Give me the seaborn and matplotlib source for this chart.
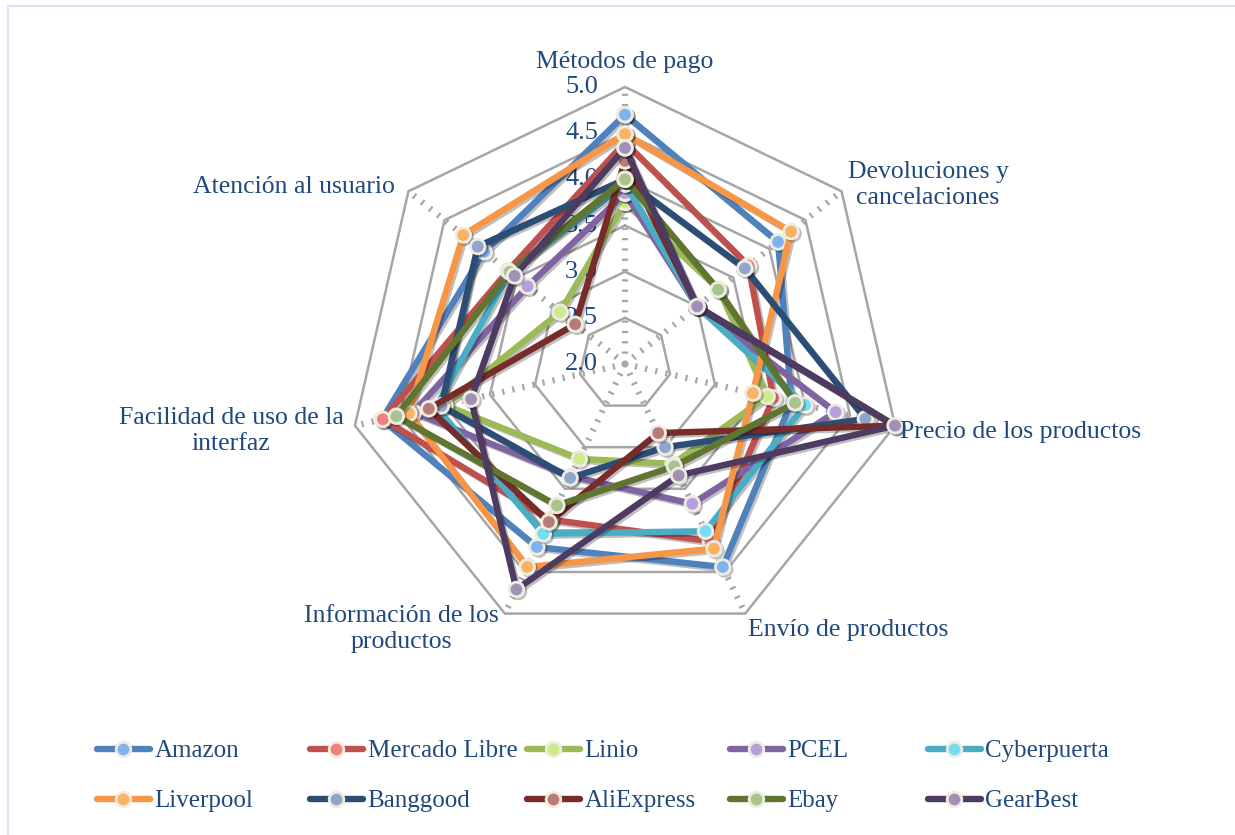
"""radar chart: store evaluation across service criteria"""

import numpy as np
import pandas as pd
import seaborn as sns
import matplotlib.pyplot as plt
from matplotlib import patheffects as pe
from matplotlib.lines import Line2D
from matplotlib.patches import Rectangle
from matplotlib.transforms import offset_copy

categories = [
    "Métodos de pago",
    "Devoluciones y\ncancelaciones",
    "Precio de los productos",
    "Envío de productos",
    "Información de los\nproductos",
    "Facilidad de uso de la\ninterfaz",
    "Atención al usuario",
]
rings = [2.0, 2.5, 3.0, 3.5, 4.0, 4.5, 5.0]

stores = ["Amazon", "Mercado Libre", "Linio", "PCEL", "Cyberpuerta",
          "Liverpool", "Banggood", "AliExpress", "Ebay", "GearBest"]

amazon = [4.70, 4.12, 3.85, 4.44, 4.20, 4.70, 3.95]
mercado_libre = [4.40, 3.71, 3.65, 4.13, 3.87, 4.69, 3.62]
linio = [3.75, 3.30, 3.58, 3.20, 3.14, 4.00, 2.90]
pcel = [3.85, 3.00, 4.34, 3.68, 3.35, 4.35, 3.35]
cyberpuerta = [3.95, 3.00, 4.00, 4.01, 4.04, 4.10, 3.60]
liverpool = [4.49, 4.30, 3.42, 4.22, 4.44, 4.40, 4.24]
banggood = [4.00, 3.66, 4.67, 3.00, 3.37, 4.04, 4.04]
aliexpress = [4.20, 3.00, 5.00, 2.83, 3.90, 4.18, 2.69]
ebay = [4.00, 3.29, 3.89, 3.23, 3.70, 4.54, 3.60]
gearbest = [4.34, 3.00, 5.00, 3.34, 4.71, 3.71, 3.53]

values = [amazon, mercado_libre, linio, pcel, cyberpuerta,
          liverpool, banggood, aliexpress, ebay, gearbest]

line_colors = ["#4F81BD", "#C0504D", "#9BBB59", "#8064A2", "#4BACC6",
               "#F79646", "#2C4D75", "#772C2A", "#5F7530", "#4D3B62"]
marker_colors = ["#7FB2F0", "#F2817E", "#CDEB8B", "#B59FDD", "#74DDF4",
                 "#FAB263", "#8FA5C9", "#B97B78", "#A9C38C", "#A090B5"]

text_color = "#1F497D"
grid_color = "#A6A6A6"

# long table, closing each polygon by repeating the first point
n = len(categories)
angles = np.arange(n) * 2 * np.pi / n
rows = []
for store, vals in zip(stores, values):
    for k in list(range(n)) + [0]:
        rows.append({"store": store, "theta": angles[k], "value": vals[k]})
df = pd.DataFrame(rows)

sns.set_style("white")
plt.rcParams["font.family"] = ["Liberation Serif", "DejaVu Serif"]

W, H = 1235, 835
fig = plt.figure(figsize=(W / 100, H / 100), dpi=100)
cx, cy, R = 625, 364, 277
ax = fig.add_axes([(cx - R) / W, (H - cy - R) / H, 2 * R / W, 2 * R / H], projection="polar")
ax.set_theta_zero_location("N")
ax.set_theta_direction(-1)
ax.axis("off")

# heptagon grid and dotted spokes
closed = np.append(angles, angles[0])
for r in rings[1:]:
    ax.plot(closed, [r] * (n + 1), color=grid_color, lw=1.8, zorder=1, clip_on=False)
for t in angles:
    ax.plot([t, t], [rings[0], rings[-1]], color=grid_color, lw=4.5,
            ls=(0, (0.35, 1.3)), dash_capstyle="butt", zorder=1, clip_on=False)

lbl_tr = offset_copy(ax.transData, fig=fig, x=-27, y=0, units="dots")
for r in rings:
    ax.text(0, r, f"{r:.1f}", transform=lbl_tr, ha="right", va="center",
            fontsize=19, color=text_color, zorder=1.5)

shadow = [pe.SimpleLineShadow(offset=(1.5, -1.5), alpha=0.25), pe.Normal()]
for i, store in enumerate(stores):
    sub = df[df["store"] == store]
    sns.lineplot(data=sub, x="theta", y="value", sort=False, estimator=None,
                 ax=ax, color=line_colors[i], lw=4.6, marker="o", markersize=10.5,
                 markerfacecolor=marker_colors[i], markeredgecolor="#EEECE1",
                 markeredgewidth=2.0, clip_on=False, zorder=2 + i * 0.1,
                 path_effects=shadow, legend=False)
ax.set_ylim(rings[0], rings[-1])
ax.set_xlabel("")
ax.set_ylabel("")


def px(x, y):
    return x / W, 1 - y / H


# category labels
label_pos = [(625, 62, "center"), (928, 185, "center"), (900, 432, "left"),
             (848, 630, "center"), (401, 629, "center"), (231, 431, "center"),
             (395, 187, "right")]
for text, (x, y, ha) in zip(categories, label_pos):
    fig.text(*px(x, y), text, ha=ha, va="center", fontsize=18.5,
             color=text_color, linespacing=1.25, multialignment="center")

# legend: 5 columns x 2 rows, row-major like the original
handles = [Line2D([], [], color=line_colors[i], lw=4.6, marker="o", markersize=10.5,
                  markerfacecolor=marker_colors[i], markeredgecolor="#EEECE1",
                  markeredgewidth=2.0) for i in range(len(stores))]
col_x = [97, 310, 527, 730, 928]
for j, x in enumerate(col_x):
    fig.legend([handles[j], handles[j + 5]], [stores[j], stores[j + 5]],
               loc="center left", bbox_to_anchor=px(x, 776), frameon=False,
               fontsize=18, labelcolor=text_color, handlelength=2.1,
               handletextpad=0.2, labelspacing=1.1, borderpad=0,
               borderaxespad=0)

fig.patches.append(Rectangle(px(8, 840), (W + 10) / W, 834 / H, transform=fig.transFigure,
                             fill=False, edgecolor="#D5E3F3", lw=1.5))

fig.savefig("out.png", dpi=100, facecolor="white")
